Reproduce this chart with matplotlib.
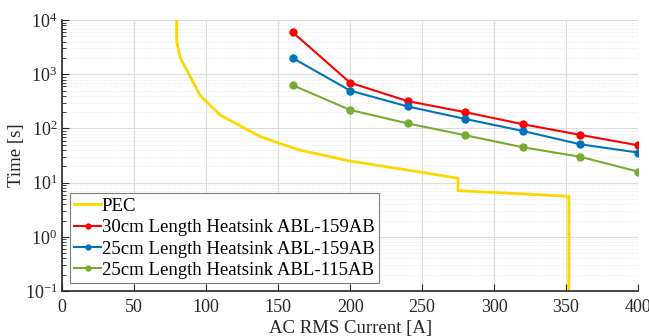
import matplotlib
matplotlib.use("Agg")
import matplotlib.pyplot as plt
from matplotlib.ticker import LogLocator, NullFormatter, MultipleLocator

plt.rcParams['font.family'] = ['Liberation Serif', 'DejaVu Serif']
plt.rcParams['mathtext.fontset'] = 'custom'
plt.rcParams['mathtext.rm'] = 'Liberation Serif'
plt.rcParams['mathtext.it'] = 'Liberation Serif:italic'

# PEC limit curve
pec_current = [79.5, 79.5, 82, 96, 110, 137, 151, 165, 200, 250, 275, 275, 300, 352, 352]
pec_time = [1e4, 4000, 2000, 400, 175, 72, 53, 40, 25, 15.5, 12, 7.1, 6.6, 5.6, 0.05]

# measured heatsink points
current = [160, 200, 240, 280, 320, 360, 400]
time_30cm_159 = [6000, 700, 320, 200, 120, 76, 49]
time_25cm_159 = [2000, 500, 255, 150, 90, 51, 36]
time_25cm_115 = [630, 220, 124, 75, 45, 30, 16]

labels = ['PEC',
          '30cm Length Heatsink ABL-159AB',
          '25cm Length Heatsink ABL-159AB',
          '25cm Length Heatsink ABL-115AB']

fig = plt.figure(figsize=(6.49, 3.36), dpi=100)
ax = fig.add_axes([0.096, 0.134, 0.887, 0.806])

ax.plot(pec_current, pec_time, color='#FFD700', lw=2.0, label=labels[0])
ax.plot(current, time_30cm_159, color='#FF0000', lw=1.5, marker='o', ms=5, label=labels[1])
ax.plot(current, time_25cm_159, color='#0072BD', lw=1.5, marker='o', ms=5, label=labels[2])
ax.plot(current, time_25cm_115, color='#77AC30', lw=1.5, marker='o', ms=5, label=labels[3])

ax.set_yscale('log')
ax.set_xlim(0, 400)
ax.set_ylim(0.1, 1e4)
ax.xaxis.set_major_locator(MultipleLocator(50))
ax.yaxis.set_major_locator(LogLocator(base=10, numticks=10))
ax.yaxis.set_minor_locator(LogLocator(base=10, subs=range(2, 10), numticks=100))
ax.yaxis.set_minor_formatter(NullFormatter())

ax.grid(True, which='major', color='#dcdcdc', lw=0.8)
ax.grid(True, which='minor', axis='y', color='#e4e4e4', lw=0.6, ls=':')
ax.set_axisbelow(True)

for s in ['top', 'right']:
    ax.spines[s].set_visible(False)
for s in ['left', 'bottom']:
    ax.spines[s].set_color('#262626')
    ax.spines[s].set_linewidth(1.2)

ax.tick_params(which='both', direction='in', colors='#262626', labelsize=13, labelcolor='#262626')
ax.tick_params(which='major', length=5)
ax.tick_params(which='minor', length=3)
ax.tick_params(axis='x', pad=6)

ax.set_xlabel('AC RMS Current [A]', fontsize=13.5, color='#262626', labelpad=3)
ax.set_ylabel('Time [s]', fontsize=13.5, color='#262626', labelpad=0)

leg = ax.legend(loc='lower left', fontsize=13.5, frameon=True, fancybox=False,
                edgecolor='#7f7f7f', framealpha=1, borderpad=0.25, labelspacing=0.22,
                handlelength=1.4, handletextpad=0.05, borderaxespad=0.4, markerscale=0.7)
leg.get_frame().set_linewidth(0.8)

fig.savefig('out.png', dpi=100)
